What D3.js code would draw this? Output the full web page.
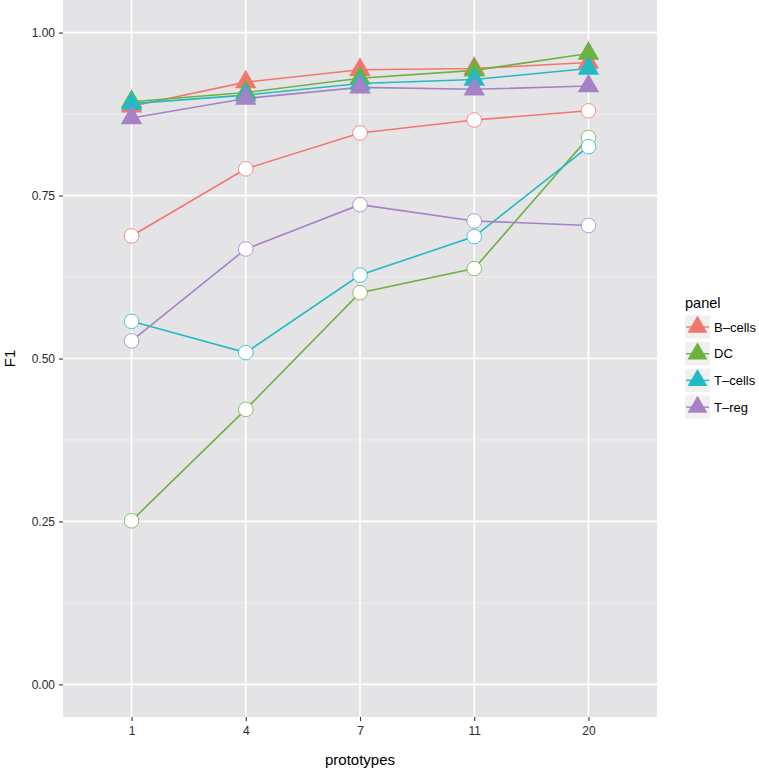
<!DOCTYPE html>
<html><head><meta charset="utf-8">
<script src="https://cdn.jsdelivr.net/npm/d3@7"></script>
<style>body{margin:0;background:#fff}svg{display:block}text{font-family:"Liberation Sans",Arial,sans-serif}</style>
</head><body><svg id="c" width="759" height="769"></svg>
<script>
const prototypes = ["1","4","7","11","20"];
const panels = ["B-cells","DC","T-cells","T-reg"];
const colors = ["#F3766E","#6DB13F","#22BAC5","#A582C5"];
// lower series (open circles)
const circleVals = {
  "B-cells": [0.688,0.791,0.846,0.866,0.880],
  "DC":      [0.251,0.422,0.601,0.638,0.839],
  "T-cells": [0.557,0.509,0.628,0.687,0.825],
  "T-reg":   [0.527,0.668,0.736,0.711,0.704]
};
// upper series (filled triangles)
const triVals = {
  "B-cells": [0.887,0.924,0.943,0.945,0.954],
  "DC":      [0.894,0.908,0.930,0.942,0.968],
  "T-cells": [0.891,0.904,0.922,0.928,0.945],
  "T-reg":   [0.869,0.899,0.916,0.913,0.918]
};
const yTicks = [0,0.25,0.5,0.75,1];
const yMinor = [0.125,0.375,0.625,0.875];

const svg = d3.select("#c");
const L=63,R=657,T=0,B=717;
const x = d3.scalePoint().domain(prototypes).range([L,R]).padding(0.6);
const y = d3.scaleLinear().domain([-0.05,1.05]).range([B,T]);
const col = d3.scaleOrdinal().domain(panels).range(colors);

svg.append("rect").attr("x",L).attr("y",T).attr("width",R-L).attr("height",B-T).attr("fill","#E4E4E7");
svg.append("g").selectAll("line").data(yMinor).join("line")
  .attr("x1",L).attr("x2",R).attr("y1",d=>y(d)).attr("y2",d=>y(d))
  .attr("stroke","#F1F1F3").attr("stroke-width",0.8);
svg.append("g").selectAll("line").data(yTicks).join("line")
  .attr("x1",L).attr("x2",R).attr("y1",d=>y(d)).attr("y2",d=>y(d))
  .attr("stroke","#fff").attr("stroke-width",1.7);
svg.append("g").selectAll("line").data(prototypes).join("line")
  .attr("x1",d=>x(d)).attr("x2",d=>x(d)).attr("y1",T).attr("y2",B)
  .attr("stroke","#fff").attr("stroke-width",1.7);

// axes
const yAxis = d3.axisLeft(y).tickValues(yTicks).tickFormat(d3.format(".2f")).tickSize(4).tickPadding(4);
const gy = svg.append("g").attr("transform",`translate(${L},0)`).call(yAxis);
const xAxis = d3.axisBottom(x).tickSize(4).tickPadding(5);
const gx = svg.append("g").attr("transform",`translate(0,${B})`).call(xAxis);
[gx,gy].forEach(g=>{
  g.select(".domain").remove();
  g.selectAll(".tick line").attr("stroke","#333").attr("stroke-width",1.1);
  g.selectAll(".tick text").attr("fill","#2a2a2a").style("font-size","12px").style("font-family","'Liberation Sans',Arial,sans-serif");
});
svg.append("text").attr("x",(L+R)/2).attr("y",765).attr("text-anchor","middle")
  .style("font-size","15px").attr("fill","#000").text("prototypes");
svg.append("text").attr("transform",`translate(15,${(T+B)/2}) rotate(-90)`).attr("text-anchor","middle")
  .style("font-size","15px").attr("fill","#000").text("F1");

const line = d3.line().x((d,i)=>x(prototypes[i])).y(d=>y(d));
const tri = d3.symbol().type(d3.symbolTriangle).size(200);
const triLeg = d3.symbol().type(d3.symbolTriangle).size(170);

const plot = svg.append("g");
panels.forEach(p=>{
  plot.append("path").attr("d",line(circleVals[p])).attr("fill","none").attr("stroke",col(p)).attr("stroke-width",1.6);
  plot.append("path").attr("d",line(triVals[p])).attr("fill","none").attr("stroke",col(p)).attr("stroke-width",1.6);
});
panels.forEach(p=>{
  plot.append("g").selectAll("circle").data(circleVals[p]).join("circle")
    .attr("cx",(d,i)=>x(prototypes[i])).attr("cy",d=>y(d)).attr("r",7.3)
    .attr("fill","#fff").attr("stroke",col(p)).attr("stroke-width",0.8);
  plot.append("g").selectAll("path").data(triVals[p]).join("path")
    .attr("d",tri).attr("transform",(d,i)=>`translate(${x(prototypes[i])},${y(d)})`)
    .attr("fill",col(p));
});

// legend
const lg = svg.append("g").attr("transform","translate(685,0)");
lg.append("text").attr("x",0).attr("y",308).style("font-size","14.5px").attr("fill","#000").text("panel");
panels.forEach((p,i)=>{
  const cy = 327 + i*26.7;
  lg.append("rect").attr("x",0).attr("y",cy-11.5).attr("width",25).attr("height",23).attr("fill","#F0F0F0");
  lg.append("path").attr("d",triLeg).attr("transform",`translate(12.5,${cy})`).attr("fill",col(p));
  lg.append("line").attr("x1",1).attr("x2",24).attr("y1",cy).attr("y2",cy).attr("stroke",col(p)).attr("stroke-width",1.4);
  lg.append("text").attr("x",29).attr("y",cy+4.5).style("font-size","13px").attr("fill","#000").text(p.replace("-","\u2013"));
});
</script></body></html>
